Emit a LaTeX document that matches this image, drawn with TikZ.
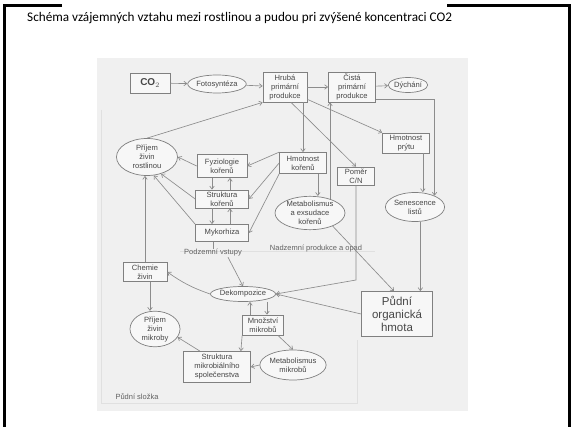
\documentclass[tikz,border=0pt]{standalone}
\usepackage{fontspec}
\setmainfont{Liberation Sans}
\newfontfamily\titlefont{Carlito}
\usetikzlibrary{shapes.geometric,arrows.meta}
\begin{document}
\begin{tikzpicture}[x=1pt,y=-1pt,
  box/.style={draw=black!50, line width=0.7pt, fill=black!3, rectangle, align=center, inner sep=0.5pt,
    font=\fontsize{7.6}{9}\selectfont, text=black!72},
  ell/.style={draw=black!50, line width=0.7pt, fill=black!3, ellipse, align=center, inner sep=0pt,
    font=\fontsize{7.6}{9}\selectfont, text=black!72},
  lbl/.style={font=\fontsize{7.5}{9}\selectfont, text=black!62, inner sep=0.5pt},
  arr/.style={draw=black!45, line width=0.65pt, -{Straight Barb[length=3pt,width=4.5pt]}},
  con/.style={draw=black!45, line width=0.65pt},
  faint/.style={draw=black!12, line width=0.9pt},
  frame/.style={draw=black, line width=3pt}]
\useasboundingbox (0,0) rectangle (572,427);
\fill[white] (0,0) rectangle (572,427);
% slide frame and title
\draw[frame] (62,5.5) -- (4.5,5.5) -- (4.5,428);
\draw[frame] (447,5.5) -- (569.5,5.5) -- (569.5,428);
\node[anchor=west, inner sep=0pt, font=\titlefont\fontsize{13.2}{15}\selectfont] (title) at (27,18)
  {Schéma vzájemných vztahu mezi rostlinou a pudou pri zvýšené koncentraci CO2};
% picture background
\fill[black!6] (97,58) rectangle (468,411);
% faint region lines
\draw[faint] (101,110) -- (101,403) -- (357,403) -- (357,340);
\draw[faint] (180,251) -- (375,251);
% nodes
\node[box, minimum width=40pt, minimum height=20pt, font=\bfseries\fontsize{10}{11}\selectfont] (co2) at (150,83) {CO$_2$};
\node[ell, minimum width=53pt, minimum height=18pt] (foto) at (217,84) {Fotosyntéza};
\node[box, minimum width=44pt, minimum height=30pt] (hpp) at (285,87) {Hrubá\\primární\\produkce};
\node[box, minimum width=47pt, minimum height=30pt] (cpp) at (352,87) {Čistá\\primární\\produkce};
\node[ell, minimum width=37pt, minimum height=15pt] (dych) at (408,85) {Dýchání};
\node[ell, minimum width=61pt, minimum height=37pt] (prr) at (147,157) {Příjem\\živin\\rostlinou};
\node[box, minimum width=50pt, minimum height=23pt] (fyz) at (222,166) {Fyziologie\\kořenů};
\node[box, minimum width=47pt, minimum height=21pt] (hk) at (303,163) {Hmotnost\\kořenů};
\node[box, minimum width=37pt, minimum height=18pt] (cn) at (356,176) {Poměr\\C/N};
\node[box, minimum width=47pt, minimum height=20pt] (hp) at (406,143) {Hmotnost\\prýtu};
\node[box, minimum width=53pt, minimum height=18pt] (sk) at (222,199) {Struktura\\kořenů};
\node[box, minimum width=53pt, minimum height=17pt] (myk) at (222,233) {Mykorhiza};
\node[ell, minimum width=70pt, minimum height=33pt] (mek) at (310,213) {Metabolismus\\a exsudace\\kořenů};
\node[ell, minimum width=55pt, minimum height=29pt] (sen) at (415,207) {Senescence\\listů};
\node[lbl] (lpv) at (213,253) {Podzemní vstupy};
\node[lbl] (lnp) at (316,249) {Nadzemní produkce a opad};
\node[box, minimum width=44pt, minimum height=19pt] (chz) at (145,272) {Chemie\\živin};
\node[ell, minimum width=61pt, minimum height=15pt] (dek) at (243,294) {Dekompozice};
\node[box, minimum width=71pt, minimum height=45pt, font=\fontsize{11.5}{13}\selectfont] (pom) at (397,314) {Půdní\\organická\\hmota};
\node[ell, minimum width=50pt, minimum height=32pt] (prm) at (155,329) {Příjem\\živin\\mikroby};
\node[box, minimum width=41pt, minimum height=20pt] (mm) at (263,325) {Množství\\mikrobů};
\node[box, minimum width=67pt, minimum height=31pt] (sms) at (217,367) {Struktura\\mikrobiálního\\společenstva};
\node[ell, minimum width=61pt, minimum height=30pt] (mmi) at (293,365) {Metabolismus\\mikrobů};
\node[lbl] (lps) at (137,397) {Půdní složka};
\coordinate (cnd) at (356,280);
% connectors
\draw[arr] (co2) -- (foto);
\draw[arr] (foto) -- (hpp);
\draw[arr] (hpp) -- (cpp);
\draw[arr] (cpp) -- (dych);
\draw[arr] (prr.north) -- (hpp.south west);
\draw[arr] (hpp.south -| hk.north) -- (hk.north);
\draw[arr] ([xshift=6pt]hpp.south) -- (cn.north);
\draw[arr] ([yshift=3pt]hpp.south east) -- (hp.north west);
\draw[arr] ([yshift=3pt]cpp.south east) -| (sen.30);
\draw[arr] (mek.35) -- (mek.35 |- cpp.south);
\draw[arr] ([xshift=-9pt]hk.south east) -- ([xshift=-9pt]hk.south east |- mek.north);
\draw[arr] ([xshift=-7pt]hp.south east) -- ([xshift=-7pt]hp.south east |- sen.north);
\draw[arr] (sen.-70) -- (sen.-70 |- pom.north);
\draw[arr] (cn.south) -- (cnd) -- (dek.east);
\draw[arr] (mek.-30) -- ([xshift=-3pt]pom.north);
\draw[arr] (pom.west) -- (dek.east);
\draw[con] (myk.south -| lpv.north) -- (lpv.north);
\draw[arr] ([xshift=15pt]lpv.south) -- (dek.north);
\draw[arr] (dek.west) to[bend left=8] (chz.east);
\draw[arr] (chz.north) -- (chz.north |- prr.south);
\draw[arr] ([xshift=5pt]chz.south) -- ([xshift=5pt]chz.south |- prm.north);
\draw[arr] ([xshift=-13pt]mm.north) -- ([xshift=-13pt]mm.north |- dek.south);
\draw[arr] ([xshift=4pt]mm.north |- dek.south) -- ([xshift=4pt]mm.north);
\draw[arr] (mm.south west) -- ([xshift=-10pt]sms.north east);
\draw[arr] ([xshift=-17pt]sms.north) -- (prm.-20);
\draw[arr] ([xshift=-6pt]mm.south east) -- (mmi.north);
\draw[arr] (mmi.west) -- (sms.east);
\draw[arr] (fyz.west) -- (prr.east);
\draw[arr] (hk.north west) -- (fyz.east);
\draw[arr] ([xshift=-10pt]fyz.south) -- ([xshift=-10pt]sk.north);
\draw[arr] ([xshift=8pt]sk.north) -- ([xshift=8pt]fyz.south);
\draw[arr] ([xshift=-10pt]sk.south) -- ([xshift=-10pt]myk.north);
\draw[arr] ([xshift=8pt]myk.north) -- ([xshift=8pt]sk.south);
\draw[arr] (sk.west) -- (prr.-50);
\draw[arr] (myk.north west) -- (prr.-70);
\draw[arr] (hk.west) -- (sk.east);
\draw[arr] (hk.south west) -- (myk.east);
\end{tikzpicture}
\end{document}
